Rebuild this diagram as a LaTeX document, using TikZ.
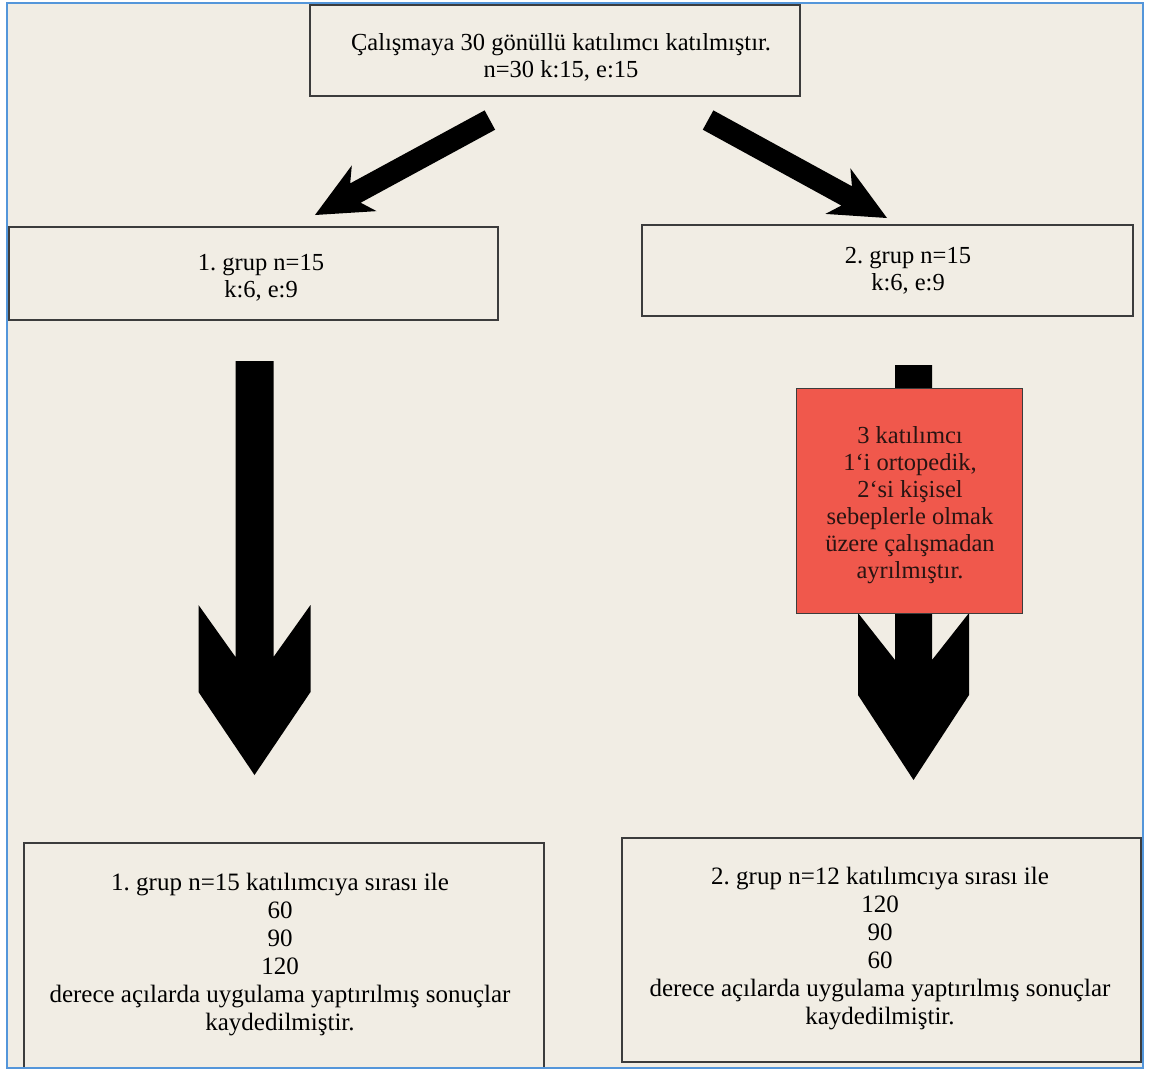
\documentclass[tikz,border=0pt]{standalone}
\usepackage{fontspec}
\setmainfont{Liberation Serif}
\frenchspacing
\definecolor{bg}{RGB}{241,237,228}
\definecolor{frameblue}{RGB}{84,150,218}
\definecolor{boxline}{RGB}{60,60,60}
\definecolor{redfill}{RGB}{240,88,76}
\definecolor{redtext}{RGB}{40,20,18}
% #1 tip, #2 angle, #3 length, #4 shaft half width, #5 head half width,
% #6 back of side start, #7 back of barb tip, #8 back of notch
\newcommand\blockarrow[8]{%
  \begin{scope}[shift={(#1)}, rotate=#2]
    \fill[black] (-#3,#4) -- (-#8,#4) -- (-#7,#5) -- (-#6,#5) -- (0,0)
      -- (-#6,-#5) -- (-#7,-#5) -- (-#8,-#4) -- (-#3,-#4) -- cycle;
  \end{scope}}
\begin{document}
\begin{tikzpicture}[x=1pt,y=-1pt,
  box/.style={draw=boxline, line width=1.5pt, rectangle, inner sep=0pt},
  txt/.style={align=center, inner sep=0pt, font=\fontsize{24.5}{27}\selectfont},
  txtb/.style={align=center, inner sep=0pt, font=\fontsize{25}{28}\selectfont}]
\useasboundingbox (0,0) rectangle (1155,1070);
\fill[white] (0,0) rectangle (1155,1070);
\fill[bg] (7,3) rectangle (1143,1068);

% boxes
\node[box, minimum width=490pt, minimum height=91pt] (top) at (555,50.5) {};
\node[box, minimum width=489pt, minimum height=93pt] (g1) at (253.5,273.5) {};
\node[box, minimum width=491pt, minimum height=91pt] (g2) at (887.5,270.5) {};
\node[box, minimum width=520pt, minimum height=225pt] (r1) at (284,955.5) {};
\node[box, minimum width=519pt, minimum height=224pt] (r2) at (881.5,950) {};

% connector end points
\coordinate (aLtail) at (490,120);
\coordinate (aLtip) at (315,215);
\coordinate (aRtail) at (708,120);
\coordinate (aRtip) at (887,218);
\coordinate (vLtail) at (254,361);
\coordinate (vLtip) at (254.5,775);
\coordinate (vRtail) at (913.5,365);
\coordinate (vRtip) at (913.5,780);

% block arrows
\blockarrow{aLtip}{208.5}{199}{11}{26}{56}{56}{46}
\blockarrow{aRtip}{-28.7}{204}{11}{26}{56}{56}{46}
\blockarrow{vLtip}{-90}{414}{19}{56}{83}{170}{118}
\blockarrow{vRtip}{-90}{415}{18.5}{55.5}{85}{167}{120}

% red box
\node[draw=boxline, line width=1pt, fill=redfill, minimum width=226pt,
  minimum height=225pt, inner sep=0pt] (drop) at (909.5,500.5) {};

% texts
\node[txt] (topt) at (561,57) {Çalışmaya 30 gönüllü katılımcı katılmıştır.\\n=30 k:15, e:15};
\node[txt] (g1t) at (261,278) {1. grup n=15\\k:6, e:9};
\node[txt] (g2t) at (908,271) {2. grup n=15\\k:6, e:9};
\node[txt, text=redtext] (dropt) at (910,505) {3 katılımcı\\1`i ortopedik,\\2`si kişisel\\sebeplerle olmak\\üzere çalışmadan\\ayrılmıştır.};
\node[txtb] (r1t) at (280,955) {1. grup n=15 katılımcıya sırası ile\\60\\90\\120\\derece açılarda uygulama yaptırılmış sonuçlar\\kaydedilmiştir.};
\node[txtb] (r2t) at (880,949) {2. grup n=12 katılımcıya sırası ile\\120\\90\\60\\derece açılarda uygulama yaptırılmış sonuçlar\\kaydedilmiştir.};

% outer frame
\draw[frameblue, line width=2pt] (7,3) rectangle (1143,1068);
\end{tikzpicture}
\end{document}
